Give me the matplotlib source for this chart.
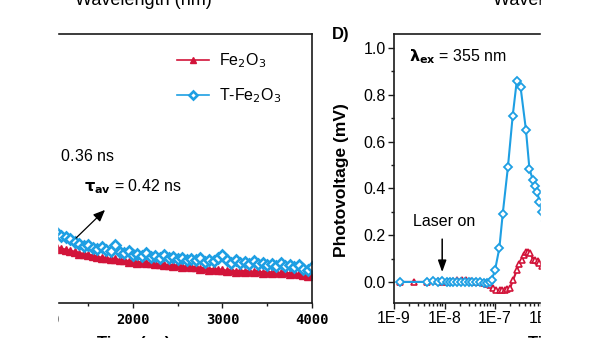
import numpy as np
import matplotlib.pyplot as plt
from matplotlib.patches import Rectangle
from matplotlib.ticker import FixedLocator, MultipleLocator, LogLocator, NullFormatter

plt.rcParams['font.family'] = ['Liberation Sans', 'DejaVu Sans']

red = '#D2143A'
blue = '#1E9FE3'
ink = '#1a1a1a'

# transient decay (left panel), normalised intensity vs time in ps
time_ps = list(range(1150, 4001, 50))
decay_fe2o3 = [0.206, 0.200, 0.198, 0.192, 0.190, 0.184, 0.182, 0.178, 0.176, 0.170,
               0.168, 0.166, 0.162, 0.164, 0.158, 0.160, 0.154, 0.156, 0.150, 0.152,
               0.148, 0.150, 0.144, 0.146, 0.140, 0.142, 0.138, 0.140, 0.134, 0.136,
               0.132, 0.134, 0.128, 0.130, 0.124, 0.126, 0.122, 0.124, 0.118, 0.122,
               0.116, 0.120, 0.116, 0.118, 0.114, 0.118, 0.112, 0.116, 0.112, 0.114,
               0.110, 0.114, 0.108, 0.112, 0.106, 0.104, 0.100, 0.106]
decay_tfe2o3 = [0.262, 0.250, 0.246, 0.238, 0.226, 0.218, 0.212, 0.216, 0.204, 0.200,
                0.208, 0.196, 0.192, 0.214, 0.190, 0.186, 0.192, 0.180, 0.184, 0.176,
                0.186, 0.172, 0.176, 0.168, 0.180, 0.166, 0.170, 0.162, 0.166, 0.160,
                0.164, 0.158, 0.166, 0.154, 0.160, 0.156, 0.166, 0.180, 0.158, 0.150,
                0.160, 0.148, 0.152, 0.146, 0.156, 0.144, 0.150, 0.140, 0.146, 0.138,
                0.148, 0.136, 0.142, 0.134, 0.140, 0.128, 0.124, 0.134]

# transient photovoltage (panel D)
tpv_t_fe2o3 = [1.3e-9, 2.5e-9, 4.5e-9, 7.5e-9, 9e-9, 1.2e-8, 1.5e-8, 1.8e-8, 2.2e-8, 2.7e-8,
               3.3e-8, 4e-8, 5e-8, 6e-8, 7e-8, 8e-8, 9e-8, 1.07e-7, 1.25e-7, 1.4e-7,
               1.57e-7, 1.75e-7, 1.98e-7, 2.3e-7, 2.7e-7, 3e-7, 3.4e-7, 3.8e-7, 4.2e-7, 4.6e-7,
               5e-7, 5.7e-7, 6.3e-7, 7e-7, 7.6e-7, 8.5e-7]
tpv_v_fe2o3 = [0, 0, 0, 0.005, 0, 0, 0.005, 0.01, 0.01, 0.01,
               0.005, 0, 0, -0.005, -0.01, -0.015, -0.025, -0.034, -0.034, -0.034,
               -0.034, -0.032, -0.027, 0.01, 0.05, 0.075, 0.094, 0.115, 0.13, 0.128,
               0.123, 0.094, 0.094, 0.09, 0.08, 0.07]
tpv_t_tfe2o3 = [1.3e-9, 4.5e-9, 6e-9, 7.5e-9, 9e-9, 1.1e-8, 1.3e-8, 1.5e-8, 1.8e-8, 2.1e-8,
                2.5e-8, 3e-8, 3.5e-8, 4.2e-8, 5e-8, 6e-8, 7e-8, 8e-8, 8.6e-8, 1.0e-7,
                1.22e-7, 1.42e-7, 1.8e-7, 2.24e-7, 2.7e-7, 3.2e-7, 4.1e-7, 4.8e-7, 5.6e-7, 6.2e-7,
                6.9e-7, 7.6e-7, 8.5e-7, 1e-6]
tpv_v_tfe2o3 = [0, 0, 0.002, 0, 0.003, 0, 0, 0, 0, 0,
                0, 0, 0, 0, 0, -0.005, -0.005, 0, 0.01, 0.05,
                0.145, 0.29, 0.49, 0.71, 0.86, 0.835, 0.65, 0.485, 0.436, 0.41,
                0.385, 0.34, 0.30, 0.26]

W, H = 600, 338
fig = plt.figure(figsize=(6, 3.38), dpi=100)


def box(x0, y0, x1, y1):
    # pixel box (top-left origin) -> figure fraction rect
    return [x0 / W, 1 - y1 / H, (x1 - x0) / W, (y1 - y0) / H]


def px(x, y):
    return x / W, 1 - y / H


# ---- left panel: decay curves ----
ax1 = fig.add_axes(box(0, 34, 312, 303))
ax1.plot(time_ps, decay_fe2o3, '-^', color=red, ms=5.8, lw=2, mec=red, mfc=red, label='Fe$_2$O$_3$')
ax1.plot(time_ps, decay_tfe2o3, '-D', color=blue, ms=5, lw=2, mec=blue, mfc='white', mew=1.9,
         label='T-Fe$_2$O$_3$')
ax1.set_xlim(514, 4000)
ax1.set_ylim(0, 1)
ax1.xaxis.set_major_locator(FixedLocator([1000, 2000, 3000, 4000]))
ax1.xaxis.set_minor_locator(FixedLocator([1500, 2500, 3500]))
ax1.set_yticks([])
for lab in ax1.get_xticklabels():
    lab.set_fontfamily('DejaVu Sans Mono')
    lab.set_fontweight('bold')
    lab.set_fontsize(10)
ax1.tick_params(axis='x', which='major', direction='out', length=3.5, width=1, color=ink, pad=4)
ax1.tick_params(axis='x', which='minor', direction='out', length=2, width=1, color=ink)
for s in ax1.spines.values():
    s.set_linewidth(1.2)
    s.set_color(ink)

leg = ax1.legend(loc='upper left', bbox_to_anchor=(177 / 312, 0.935), frameon=False,
                 fontsize=11.5, handlelength=2.0, handletextpad=0.6, labelspacing=1.0,
                 borderpad=0, borderaxespad=0, markerscale=0.75)
for line in leg.get_lines():
    line.set_linewidth(1.2)

fig.text(*px(115, 157), r'$\mathbf{\tau_{av}}$ = 0.36 ns', fontsize=11.5, ha='right', va='center')
fig.text(*px(84, 187), r'$\mathbf{\tau_{av}}$ = 0.42 ns', fontsize=11.5, ha='left', va='center')
ax1.annotate('', xy=px(107, 208), xytext=px(74, 240),
             xycoords='figure fraction', textcoords='figure fraction',
             arrowprops=dict(arrowstyle='-|>,head_length=0.7,head_width=0.3', color='black', lw=0.9))

# ---- right panel D: transient photovoltage ----
ax2 = fig.add_axes(box(394, 34, 596, 303))
ax2.plot(tpv_t_fe2o3, tpv_v_fe2o3, '-^', color=red, ms=4, lw=1.5, mec=red, mfc='white', mew=1.2)
ax2.plot(tpv_t_tfe2o3, tpv_v_tfe2o3, '-D', color=blue, ms=4, lw=1.5, mec=blue, mfc='white', mew=1.3)
ax2.set_xscale('log')
ax2.set_xlim(1e-9, 1e-5)
ax2.set_ylim(-0.09, 1.06)
ax2.xaxis.set_major_locator(FixedLocator([1e-9, 1e-8, 1e-7, 1e-6, 1e-5]))
ax2.set_xticklabels(['1E-9', '1E-8', '1E-7', '1E-6', '1E-5'])
ax2.xaxis.set_minor_locator(LogLocator(base=10, subs=np.arange(2, 10), numticks=20))
ax2.xaxis.set_minor_formatter(NullFormatter())
ax2.set_yticks([0, 0.2, 0.4, 0.6, 0.8, 1.0])
ax2.set_yticklabels(['0.0', '0.2', '0.4', '0.6', '0.8', '1.0'])
ax2.yaxis.set_minor_locator(MultipleLocator(0.1))
ax2.tick_params(axis='both', which='major', direction='out', length=4, width=1, color=ink,
                labelsize=11.5, pad=2)
ax2.tick_params(axis='both', which='minor', direction='out', length=2.2, width=1, color=ink)
for s in ax2.spines.values():
    s.set_linewidth(1.2)
    s.set_color(ink)

fig.text(*px(409, 57), r'$\mathbf{\lambda_{ex}}$ = 355 nm', fontsize=11.5, ha='left', va='center')
fig.text(*px(444, 222), 'Laser on', fontsize=11.5, ha='center', va='center')
ax2.annotate('', xy=(9e-9, 0.03), xytext=(9e-9, 0.195),
             arrowprops=dict(arrowstyle='-|>,head_length=0.7,head_width=0.25', color='black', lw=1.1))

fig.text(*px(342, 180), 'Photovoltage (mV)', rotation=90, fontsize=12.5,
         fontweight='bold', ha='center', va='center')
fig.text(*px(341, 35), 'D)', fontsize=12, fontweight='bold', ha='center', va='center')

# axis titles of the neighbouring panels
fig.text(*px(212, 5), 'Wavelength (nm)', fontsize=13, ha='right', va='baseline')
fig.text(*px(493, 5), 'Wavelength (nm)', fontsize=13, ha='left', va='baseline')
fig.text(*px(97, 336), 'Time (ps)', fontsize=12, fontweight='bold', ha='left', va='top')
fig.text(*px(528, 336), 'Time (s)', fontsize=12, fontweight='bold', ha='left', va='top')

# blank margins on both sides
fig.add_artist(Rectangle((0, 0), 57 / W, 1, transform=fig.transFigure, color='white', zorder=20))
fig.add_artist(Rectangle((541 / W, 0), 1 - 541 / W, 1, transform=fig.transFigure, color='white',
                         zorder=20))

fig.savefig('out.png', dpi=100)
